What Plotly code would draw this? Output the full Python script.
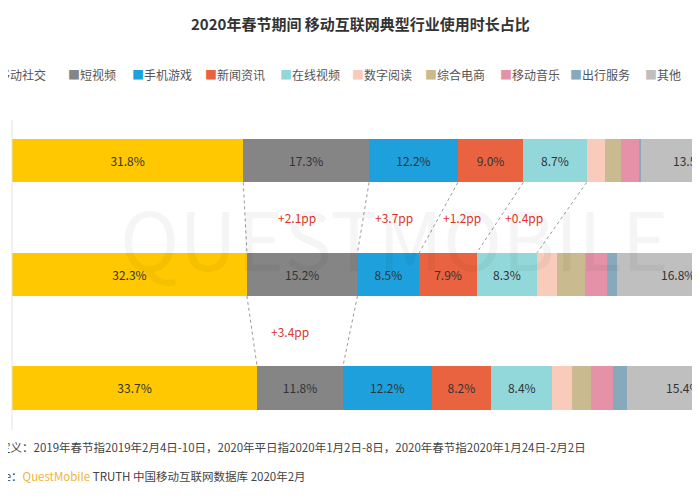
import plotly.graph_objects as go

rows = ["2020年春节", "2020年平日", "2019年春节"]
categories = ["移动社交", "短视频", "手机游戏", "新闻资讯", "在线视频",
              "数字阅读", "综合电商", "移动音乐", "出行服务", "其他"]
colors = ["#FFC800", "#858585", "#1EA0DC", "#EA6340", "#92D8DA",
          "#F8CBBA", "#C9BB8F", "#E592A8", "#86A9BC", "#BFBFBF"]
values = {
    "移动社交": [31.8, 32.3, 33.7],
    "短视频": [17.3, 15.2, 11.8],
    "手机游戏": [12.2, 8.5, 12.2],
    "新闻资讯": [9.0, 7.9, 8.2],
    "在线视频": [8.7, 8.3, 8.4],
    "数字阅读": [2.5, 2.8, 2.7],
    "综合电商": [2.2, 3.8, 2.6],
    "移动音乐": [2.5, 3.0, 3.0],
    "出行服务": [0.3, 1.4, 2.0],
    "其他": [13.5, 16.8, 15.4],
}
labelled = {"移动社交", "短视频", "手机游戏", "新闻资讯", "在线视频", "其他"}
pp_top = ["+2.1pp", "+3.7pp", "+1.2pp", "+0.4pp"]
pp_bottom = ["+3.4pp"]

fig = go.Figure()
ypos = [0, 1, 2]
for cat, col in zip(categories, colors):
    fig.add_trace(go.Bar(
        y=ypos, x=values[cat], orientation="h", name=cat, width=0.38,
        marker=dict(color=col, line=dict(width=0)),
        text=[f"{v:.1f}%" if cat in labelled else "" for v in values[cat]],
        textposition="inside", insidetextanchor="middle",
        textfont=dict(size=12, color="#333333"),
        showlegend=False,
    ))

# cumulative boundaries for dashed connectors
cum = []
for i in range(3):
    s, c = 0, []
    for cat in categories:
        s += values[cat][i]
        c.append(s)
    cum.append(c)

shapes = []
for k in [0, 1, 2, 3, 4]:
    shapes.append(dict(type="line", x0=cum[0][k], y0=0.19, x1=cum[1][k], y1=0.81,
                       line=dict(color="#999", width=1, dash="dot")))
for k in [0, 1]:
    shapes.append(dict(type="line", x0=cum[1][k], y0=1.19, x1=cum[2][k], y1=1.81,
                       line=dict(color="#999", width=1, dash="dot")))
shapes.append(dict(type="line", xref="paper", yref="paper", x0=0, x1=0, y0=0, y1=1,
                   line=dict(color="#e4e4e4", width=1)))

ann = []
for j, t in enumerate(pp_top):
    xm = (cum[0][j] + cum[0][j + 1] + cum[1][j] + cum[1][j + 1]) / 4
    ann.append(dict(x=xm - 1, y=0.5, text=t, showarrow=False,
                    font=dict(size=12, color="#E0342A")))
for j, t in enumerate(pp_bottom):
    xm = (cum[1][j] + cum[1][j + 1] + cum[2][j] + cum[2][j + 1]) / 4
    ann.append(dict(x=xm - 1.5, y=1.5, text=t, showarrow=False,
                    font=dict(size=12, color="#E0342A")))

# legend row (cropped like the original)
legend_px = [-16, 66, 130, 203, 278, 350, 423, 498, 568, 643]
for cat, col, px in zip(categories, colors, legend_px):
    ann.append(dict(xref="paper", yref="paper", x=(px - 12) / 696, y=1.18,
                    xanchor="left", showarrow=False,
                    text=f"<span style='color:{col}'>■</span>{cat}",
                    font=dict(size=12, color="#555")))

ann.append(dict(xref="paper", yref="paper", x=0.5, y=1.35, showarrow=False,
                text="<b>2020年春节期间 移动互联网典型行业使用时长占比</b>",
                font=dict(size=15, color="#333")))
ann.append(dict(xref="paper", yref="paper", x=-38 / 696, y=-0.087, xanchor="left",
                showarrow=False, font=dict(size=11.5, color="#444"),
                text="数据定义：2019年春节指2019年2月4日-10日，2020年平日指2020年1月2日-8日，2020年春节指2020年1月24日-2月2日"))
ann.append(dict(xref="paper", yref="paper", x=-40 / 696, y=-0.18, xanchor="left",
                showarrow=False, font=dict(size=11.5, color="#444"),
                text="Source：<span style='color:#F0B43C'>QuestMobile</span> TRUTH 中国移动互联网数据库 2020年2月"))
ann.append(dict(xref="paper", yref="paper", x=0.55, y=0.82, showarrow=False,
                text="QUESTMOBILE", font=dict(size=80, color="rgba(0,0,0,0.04)")))

fig.update_layout(
    barmode="stack", width=700, height=500,
    margin=dict(l=4, r=0, t=112, b=78),
    plot_bgcolor="white", paper_bgcolor="white",
    font=dict(family="Noto Sans CJK SC"),
    xaxis=dict(range=[0, 95.7], visible=False),
    yaxis=dict(range=[2.37, -0.36], visible=False),
    shapes=shapes, annotations=ann,
)
fig.write_html("out.html")
